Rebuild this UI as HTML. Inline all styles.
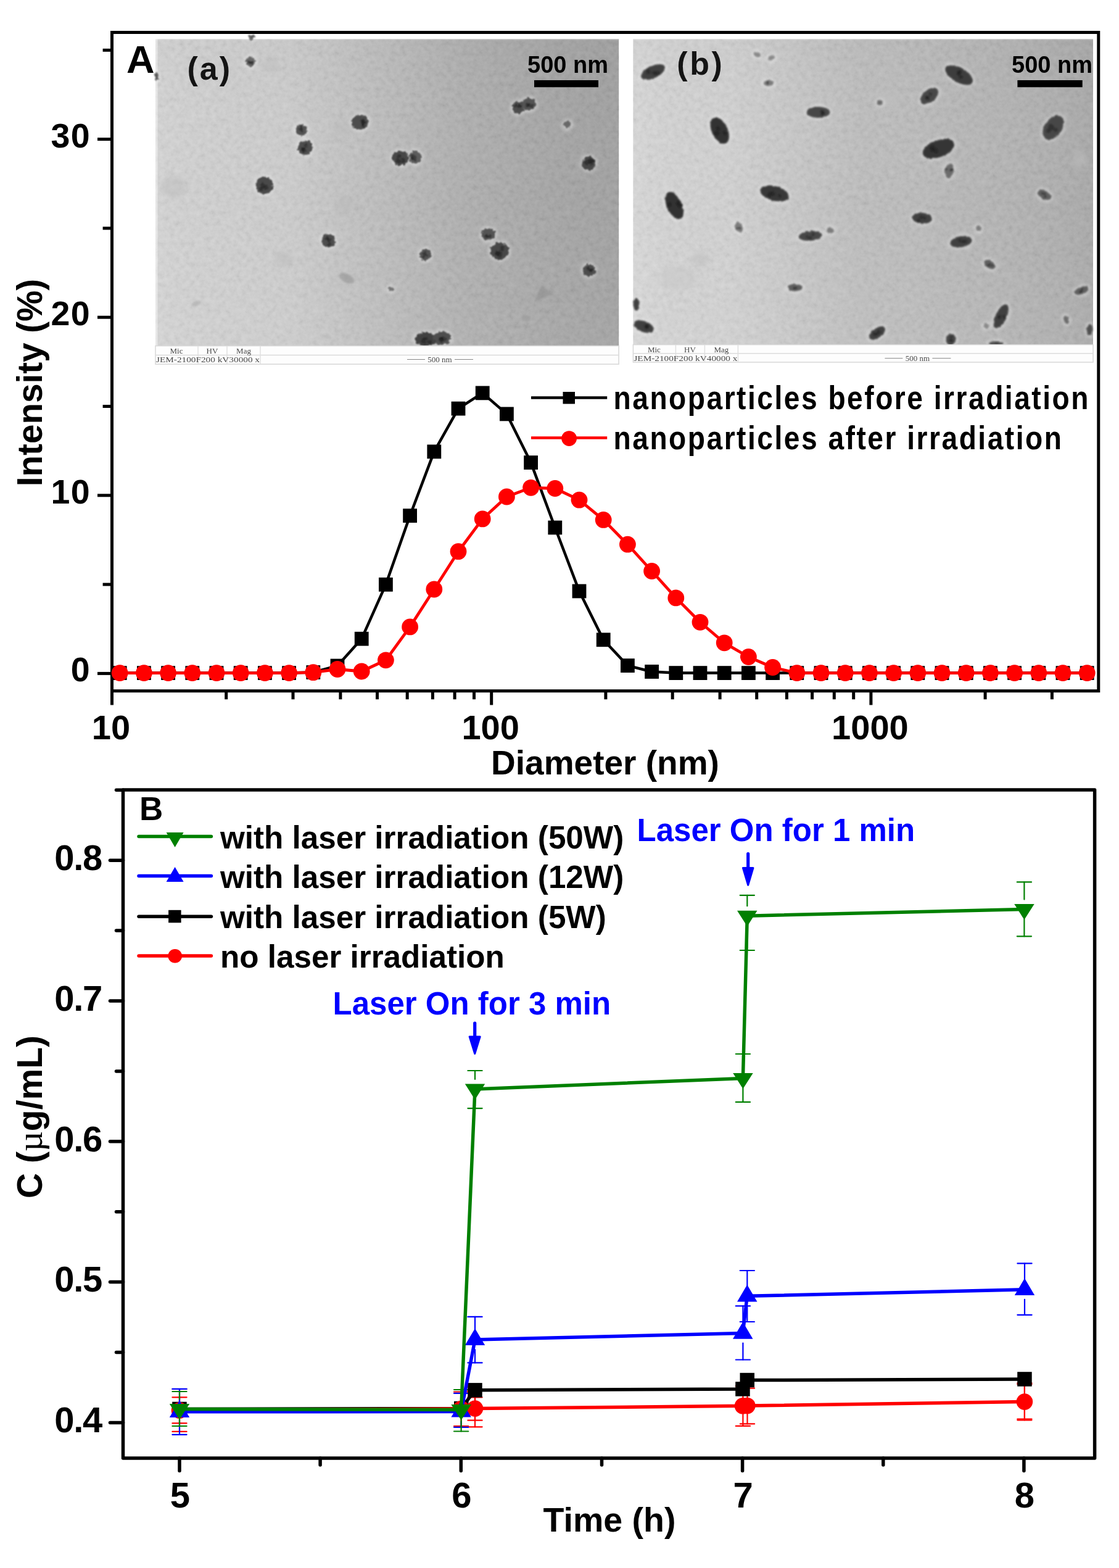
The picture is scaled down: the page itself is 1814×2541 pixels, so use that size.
<!DOCTYPE html><html><head><meta charset="utf-8"><title>Figure</title><style>html,body{margin:0;padding:0;background:#fff;}svg{display:block}</style></head><body>
<svg width="1814" height="2541" viewBox="0 0 1814 2541" font-family="'Liberation Sans', Arial, sans-serif">
<defs><filter id="blur1" x="-50%" y="-50%" width="200%" height="200%"><feGaussianBlur stdDeviation="1.5"/></filter><filter id="blur2" x="-50%" y="-50%" width="200%" height="200%"><feGaussianBlur stdDeviation="4"/></filter><filter id="pblob" x="-20%" y="-20%" width="140%" height="140%"><feTurbulence type="fractalNoise" baseFrequency="0.22" numOctaves="2" seed="11" result="t"/><feDisplacementMap in="SourceGraphic" in2="t" scale="7" xChannelSelector="R" yChannelSelector="G" result="d"/><feGaussianBlur in="d" stdDeviation="1.3"/></filter><filter id="pblob2" x="-20%" y="-20%" width="140%" height="140%"><feTurbulence type="fractalNoise" baseFrequency="0.2" numOctaves="2" seed="4" result="t"/><feDisplacementMap in="SourceGraphic" in2="t" scale="3.5" xChannelSelector="R" yChannelSelector="G" result="d"/><feGaussianBlur in="d" stdDeviation="1.5"/></filter><filter id="blur3" x="-50%" y="-50%" width="200%" height="200%"><feGaussianBlur stdDeviation="2.5"/></filter><filter id="noise" x="0" y="0" width="100%" height="100%"><feTurbulence type="fractalNoise" baseFrequency="0.12" numOctaves="3" seed="7"/><feColorMatrix type="matrix" values="1 0 0 0 0  1 0 0 0 0  1 0 0 0 0  0 0 0 0 1"/></filter><linearGradient id="ga" x1="0" y1="0" x2="1" y2="0"><stop offset="0" stop-color="rgb(213,213,213)"/><stop offset="0.064" stop-color="rgb(210,210,210)"/><stop offset="0.29" stop-color="rgb(205,205,205)"/><stop offset="0.37" stop-color="rgb(198,198,198)"/><stop offset="0.49" stop-color="rgb(188,188,188)"/><stop offset="0.66" stop-color="rgb(174,174,174)"/><stop offset="0.87" stop-color="rgb(163,163,163)"/><stop offset="1.0" stop-color="rgb(159,159,159)"/></linearGradient><linearGradient id="gb" x1="0" y1="0" x2="1" y2="0"><stop offset="0" stop-color="rgb(217,217,217)"/><stop offset="0.07" stop-color="rgb(212,212,212)"/><stop offset="0.21" stop-color="rgb(210,210,210)"/><stop offset="0.5" stop-color="rgb(189,189,189)"/><stop offset="0.6" stop-color="rgb(187,187,187)"/><stop offset="0.84" stop-color="rgb(177,177,177)"/><stop offset="0.94" stop-color="rgb(172,172,172)"/><stop offset="1.0" stop-color="rgb(167,167,167)"/></linearGradient><linearGradient id="gv" x1="0" y1="0" x2="0" y2="1"><stop offset="0" stop-color="#000" stop-opacity="0.015"/><stop offset="0.5" stop-color="#fff" stop-opacity="0"/><stop offset="1" stop-color="#fff" stop-opacity="0.04"/></linearGradient><radialGradient id="pg" cx="0.45" cy="0.45" r="0.6"><stop offset="0" stop-color="#1e1e1e"/><stop offset="0.6" stop-color="#303030"/><stop offset="1" stop-color="#555"/></radialGradient></defs>
<rect width="1814" height="2541" fill="#fff"/>
<rect x="252" y="63" width="751.1" height="497.5" fill="url(#ga)"/>
<rect x="252" y="63" width="751.1" height="497.5" fill="#000" filter="url(#noise)" opacity="0.12"/>
<rect x="252" y="63" width="751.1" height="497.5" fill="url(#gv)"/>
<rect x="252" y="63" width="3.5" height="497.5" fill="#fff" opacity="0.45"/>
<rect x="252" y="63" width="751.1" height="1.5" fill="#fff" opacity="0.35"/>
<g filter="url(#blur1)" opacity="0.55"><polygon points="866,489 878,462 896,477 884,481" fill="#8c8c8c"/><ellipse cx="562" cy="451" rx="13" ry="7" transform="rotate(25 562 451)" fill="#8e8e8e"/><ellipse cx="853" cy="516" rx="7" ry="5" fill="#9a9a9a"/><ellipse cx="318" cy="492" rx="8" ry="4" transform="rotate(-20 318 492)" fill="#a8a8a8"/></g>
<g filter="url(#blur2)">
<ellipse cx="282" cy="303" rx="20" ry="18" transform="rotate(0 282 303)" fill="#bdbdbd" opacity="0.5"/>
<ellipse cx="556" cy="208" rx="16" ry="12" transform="rotate(0 556 208)" fill="#bbbbbb" opacity="0.5"/>
<ellipse cx="560" cy="332" rx="14" ry="12" transform="rotate(0 560 332)" fill="#b8b8b8" opacity="0.5"/>
<ellipse cx="439" cy="106" rx="14" ry="10" transform="rotate(0 439 106)" fill="#bdbdbd" opacity="0.5"/>
<ellipse cx="460" cy="420" rx="14" ry="12" transform="rotate(0 460 420)" fill="#bcbcbc" opacity="0.5"/>
</g>
<g filter="url(#blur3)" fill="#fff" opacity="0.35">
<ellipse cx="406" cy="100" rx="11.5" ry="11.5" transform="rotate(0 406 100)"/>
<ellipse cx="408" cy="60" rx="9.5" ry="7.5" transform="rotate(0 408 60)"/>
<ellipse cx="488" cy="210.5" rx="13.5" ry="12.5" transform="rotate(0 488 210.5)"/>
<ellipse cx="494.6" cy="239" rx="15.5" ry="15.5" transform="rotate(0 494.6 239)"/>
<ellipse cx="583.8" cy="198" rx="17.5" ry="15.5" transform="rotate(-10 583.8 198)"/>
<ellipse cx="648.7" cy="256.5" rx="16.5" ry="15.5" transform="rotate(0 648.7 256.5)"/>
<ellipse cx="673" cy="255" rx="13.5" ry="14.5" transform="rotate(0 673 255)"/>
<ellipse cx="428.7" cy="300.6" rx="17.5" ry="17.5" transform="rotate(0 428.7 300.6)"/>
<ellipse cx="840" cy="174.5" rx="13.5" ry="13.5" transform="rotate(0 840 174.5)"/>
<ellipse cx="857.4" cy="168.8" rx="14.5" ry="13.5" transform="rotate(0 857.4 168.8)"/>
<ellipse cx="919.5" cy="202" rx="9.5" ry="9.5" transform="rotate(0 919.5 202)"/>
<ellipse cx="954.6" cy="264.6" rx="14.5" ry="14.5" transform="rotate(0 954.6 264.6)"/>
<ellipse cx="532.6" cy="390" rx="14.5" ry="14.5" transform="rotate(0 532.6 390)"/>
<ellipse cx="689.5" cy="413" rx="12.5" ry="13.5" transform="rotate(0 689.5 413)"/>
<ellipse cx="791.4" cy="379.8" rx="14.5" ry="13.5" transform="rotate(0 791.4 379.8)"/>
<ellipse cx="810" cy="406.8" rx="18.5" ry="17.5" transform="rotate(0 810 406.8)"/>
<ellipse cx="955" cy="438" rx="13.5" ry="13.5" transform="rotate(0 955 438)"/>
<ellipse cx="633.5" cy="468.5" rx="7.5" ry="7.5" transform="rotate(0 633.5 468.5)"/>
<ellipse cx="254" cy="124" rx="6.0" ry="10.5" transform="rotate(0 254 124)"/>
<ellipse cx="690" cy="550" rx="21.5" ry="14.5" transform="rotate(0 690 550)"/>
<ellipse cx="717" cy="548" rx="17.5" ry="14.5" transform="rotate(0 717 548)"/>
</g>
<g filter="url(#pblob)">
<ellipse cx="406" cy="100" rx="8" ry="8" transform="rotate(0 406 100)" fill="#676767"/>
<ellipse cx="408" cy="60" rx="6" ry="4" transform="rotate(0 408 60)" fill="#5b5b5b"/>
<ellipse cx="488" cy="210.5" rx="10" ry="9" transform="rotate(0 488 210.5)" fill="#535353"/>
<ellipse cx="494.6" cy="239" rx="12" ry="12" transform="rotate(0 494.6 239)" fill="#4e4e4e"/>
<ellipse cx="583.8" cy="198" rx="14" ry="12" transform="rotate(-10 583.8 198)" fill="#4e4e4e"/>
<ellipse cx="648.7" cy="256.5" rx="13" ry="12" transform="rotate(0 648.7 256.5)" fill="#474747"/>
<ellipse cx="673" cy="255" rx="10" ry="11" transform="rotate(0 673 255)" fill="#5b5b5b"/>
<ellipse cx="428.7" cy="300.6" rx="14" ry="14" transform="rotate(0 428.7 300.6)" fill="#4a4a4a"/>
<ellipse cx="840" cy="174.5" rx="10" ry="10" transform="rotate(0 840 174.5)" fill="#4e4e4e"/>
<ellipse cx="857.4" cy="168.8" rx="11" ry="10" transform="rotate(0 857.4 168.8)" fill="#535353"/>
<ellipse cx="919.5" cy="202" rx="6" ry="6" transform="rotate(0 919.5 202)" fill="#676767"/>
<ellipse cx="954.6" cy="264.6" rx="11" ry="11" transform="rotate(0 954.6 264.6)" fill="#474747"/>
<ellipse cx="532.6" cy="390" rx="11" ry="11" transform="rotate(0 532.6 390)" fill="#4e4e4e"/>
<ellipse cx="689.5" cy="413" rx="9" ry="10" transform="rotate(0 689.5 413)" fill="#535353"/>
<ellipse cx="791.4" cy="379.8" rx="11" ry="10" transform="rotate(0 791.4 379.8)" fill="#535353"/>
<ellipse cx="810" cy="406.8" rx="15" ry="14" transform="rotate(0 810 406.8)" fill="#474747"/>
<ellipse cx="955" cy="438" rx="10" ry="10" transform="rotate(0 955 438)" fill="#4e4e4e"/>
<ellipse cx="633.5" cy="468.5" rx="4" ry="4" transform="rotate(0 633.5 468.5)" fill="#747474"/>
<ellipse cx="254" cy="124" rx="2.5" ry="7" transform="rotate(0 254 124)" fill="#5b5b5b"/>
<ellipse cx="690" cy="550" rx="18" ry="11" transform="rotate(0 690 550)" fill="#414141"/>
<ellipse cx="717" cy="548" rx="14" ry="11" transform="rotate(0 717 548)" fill="#4e4e4e"/>
<circle cx="406.8" cy="101.5" r="3.0" fill="#1c1c1c" opacity="0.5"/>
<circle cx="408.8" cy="101.5" r="3.1" fill="#1c1c1c" opacity="0.5"/>
<circle cx="403.0" cy="99.8" r="3.1" fill="#1c1c1c" opacity="0.5"/>
<circle cx="489.2" cy="213.4" r="2.4" fill="#1c1c1c" opacity="0.5"/>
<circle cx="487.8" cy="208.7" r="3.0" fill="#1c1c1c" opacity="0.5"/>
<circle cx="488.6" cy="207.0" r="2.5" fill="#1c1c1c" opacity="0.5"/>
<circle cx="492.5" cy="243.0" r="4.4" fill="#1c1c1c" opacity="0.5"/>
<circle cx="491.3" cy="241.9" r="3.2" fill="#1c1c1c" opacity="0.5"/>
<circle cx="495.7" cy="235.4" r="3.0" fill="#1c1c1c" opacity="0.5"/>
<circle cx="588.0" cy="195.2" r="3.4" fill="#1c1c1c" opacity="0.5"/>
<circle cx="589.2" cy="201.6" r="3.5" fill="#1c1c1c" opacity="0.5"/>
<circle cx="589.0" cy="198.4" r="4.2" fill="#1c1c1c" opacity="0.5"/>
<circle cx="645.6" cy="260.7" r="4.2" fill="#1c1c1c" opacity="0.5"/>
<circle cx="653.6" cy="260.3" r="3.5" fill="#1c1c1c" opacity="0.5"/>
<circle cx="647.3" cy="253.3" r="3.3" fill="#1c1c1c" opacity="0.5"/>
<circle cx="669.5" cy="253.3" r="3.4" fill="#1c1c1c" opacity="0.5"/>
<circle cx="669.0" cy="256.6" r="3.0" fill="#1c1c1c" opacity="0.5"/>
<circle cx="671.5" cy="257.8" r="3.2" fill="#1c1c1c" opacity="0.5"/>
<circle cx="426.6" cy="300.4" r="5.0" fill="#1c1c1c" opacity="0.5"/>
<circle cx="423.7" cy="305.9" r="3.5" fill="#1c1c1c" opacity="0.5"/>
<circle cx="431.5" cy="304.5" r="3.5" fill="#1c1c1c" opacity="0.5"/>
<circle cx="842.3" cy="173.4" r="3.4" fill="#1c1c1c" opacity="0.5"/>
<circle cx="836.1" cy="170.9" r="2.8" fill="#1c1c1c" opacity="0.5"/>
<circle cx="843.6" cy="172.1" r="3.6" fill="#1c1c1c" opacity="0.5"/>
<circle cx="861.2" cy="172.3" r="3.0" fill="#1c1c1c" opacity="0.5"/>
<circle cx="856.1" cy="169.0" r="3.7" fill="#1c1c1c" opacity="0.5"/>
<circle cx="854.0" cy="170.8" r="3.7" fill="#1c1c1c" opacity="0.5"/>
<circle cx="957.8" cy="260.5" r="4.3" fill="#1c1c1c" opacity="0.5"/>
<circle cx="951.0" cy="263.2" r="3.8" fill="#1c1c1c" opacity="0.5"/>
<circle cx="958.3" cy="263.2" r="4.3" fill="#1c1c1c" opacity="0.5"/>
<circle cx="533.0" cy="388.3" r="3.3" fill="#1c1c1c" opacity="0.5"/>
<circle cx="529.8" cy="386.3" r="3.0" fill="#1c1c1c" opacity="0.5"/>
<circle cx="534.3" cy="394.4" r="3.0" fill="#1c1c1c" opacity="0.5"/>
<circle cx="686.2" cy="416.9" r="3.0" fill="#1c1c1c" opacity="0.5"/>
<circle cx="688.8" cy="410.9" r="3.1" fill="#1c1c1c" opacity="0.5"/>
<circle cx="691.8" cy="412.6" r="2.8" fill="#1c1c1c" opacity="0.5"/>
<circle cx="787.5" cy="383.1" r="2.5" fill="#1c1c1c" opacity="0.5"/>
<circle cx="791.3" cy="382.5" r="2.7" fill="#1c1c1c" opacity="0.5"/>
<circle cx="793.4" cy="383.4" r="3.4" fill="#1c1c1c" opacity="0.5"/>
<circle cx="813.5" cy="402.4" r="4.4" fill="#1c1c1c" opacity="0.5"/>
<circle cx="805.8" cy="410.7" r="4.1" fill="#1c1c1c" opacity="0.5"/>
<circle cx="809.4" cy="412.4" r="5.3" fill="#1c1c1c" opacity="0.5"/>
<circle cx="958.8" cy="437.6" r="3.2" fill="#1c1c1c" opacity="0.5"/>
<circle cx="956.8" cy="437.8" r="2.9" fill="#1c1c1c" opacity="0.5"/>
<circle cx="954.2" cy="435.2" r="3.1" fill="#1c1c1c" opacity="0.5"/>
<circle cx="697.0" cy="554.0" r="3.8" fill="#1c1c1c" opacity="0.5"/>
<circle cx="690.0" cy="548.6" r="2.9" fill="#1c1c1c" opacity="0.5"/>
<circle cx="686.7" cy="552.5" r="4.2" fill="#1c1c1c" opacity="0.5"/>
<circle cx="715.4" cy="550.5" r="4.0" fill="#1c1c1c" opacity="0.5"/>
<circle cx="719.2" cy="549.4" r="4.0" fill="#1c1c1c" opacity="0.5"/>
<circle cx="715.5" cy="549.8" r="3.2" fill="#1c1c1c" opacity="0.5"/>
</g>
<text x="303.4" y="129.4" font-size="52" letter-spacing="3" font-weight="bold" fill="#141414">(a)</text>
<text x="855" y="118" font-size="38" font-weight="bold" fill="#000">500 nm</text>
<rect x="866" y="130" width="104" height="11.3" fill="#000"/>
<rect x="252" y="560.5" width="751.1" height="29.7" fill="#fdfdfd" stroke="#d8d8d8" stroke-width="1.5"/>
<line x1="252" y1="575.4" x2="1003.1" y2="575.4" stroke="#dcdcdc" stroke-width="1.5"/>
<line x1="321" y1="560.5" x2="321" y2="590.2" stroke="#e0e0e0" stroke-width="1.5"/>
<line x1="368" y1="560.5" x2="368" y2="590.2" stroke="#e0e0e0" stroke-width="1.5"/>
<line x1="422" y1="560.5" x2="422" y2="590.2" stroke="#e0e0e0" stroke-width="1.5"/>
<g font-family="'Liberation Serif', serif" font-size="13" fill="#4a4a4a">
<text x="286" y="572.5" text-anchor="middle">Mic</text>
<text x="344" y="572.5" text-anchor="middle">HV</text>
<text x="395" y="572.5" text-anchor="middle">Mag</text>
<text x="253" y="586.5" textLength="168" lengthAdjust="spacingAndGlyphs">JEM-2100F200 kV30000 x</text>
<text x="713" y="586.5" text-anchor="middle">500 nm</text>
</g>
<line x1="660" y1="582.5" x2="689" y2="582.5" stroke="#888" stroke-width="1"/>
<line x1="737" y1="582.5" x2="767" y2="582.5" stroke="#888" stroke-width="1"/>
<rect x="1026.4" y="63" width="745.6" height="495.6" fill="url(#gb)"/>
<rect x="1026.4" y="63" width="745.6" height="495.6" fill="#000" filter="url(#noise)" opacity="0.12"/>
<rect x="1026.4" y="63" width="745.6" height="495.6" fill="url(#gv)"/>
<rect x="1026.4" y="63" width="745.6" height="1.5" fill="#fff" opacity="0.35"/>
<g filter="url(#blur2)">
<ellipse cx="1135" cy="420" rx="14" ry="10" transform="rotate(0 1135 420)" fill="#bcbcbc" opacity="0.5"/>
<ellipse cx="1440" cy="160" rx="18" ry="14" transform="rotate(0 1440 160)" fill="#c0c0c0" opacity="0.5"/>
<ellipse cx="1100" cy="450" rx="30" ry="20" transform="rotate(0 1100 450)" fill="#c8c8c8" opacity="0.5"/>
<ellipse cx="1555" cy="425" rx="10" ry="12" transform="rotate(0 1555 425)" fill="#bbbbbb" opacity="0.5"/>
<ellipse cx="1750" cy="260" rx="12" ry="14" transform="rotate(0 1750 260)" fill="#bdbdbd" opacity="0.5"/>
<ellipse cx="1400" cy="480" rx="10" ry="10" transform="rotate(0 1400 480)" fill="#c2c2c2" opacity="0.5"/>
</g>
<g filter="url(#blur3)" fill="#fff" opacity="0.35">
<ellipse cx="1058.6" cy="116.6" rx="24.5" ry="13.5" transform="rotate(-25 1058.6 116.6)"/>
<ellipse cx="1554.6" cy="121.4" rx="28.5" ry="15.5" transform="rotate(30 1554.6 121.4)"/>
<ellipse cx="1506.7" cy="155.5" rx="20.5" ry="13.5" transform="rotate(-40 1506.7 155.5)"/>
<ellipse cx="1326.5" cy="182" rx="22.5" ry="12.5" transform="rotate(0 1326.5 182)"/>
<ellipse cx="1426.6" cy="166.4" rx="8.5" ry="7.5" transform="rotate(0 1426.6 166.4)"/>
<ellipse cx="1166.7" cy="211.5" rx="26.5" ry="16.5" transform="rotate(65 1166.7 211.5)"/>
<ellipse cx="1521.4" cy="240.9" rx="30.5" ry="17.5" transform="rotate(-20 1521.4 240.9)"/>
<ellipse cx="1707.3" cy="206.7" rx="25.5" ry="17.5" transform="rotate(-55 1707.3 206.7)"/>
<ellipse cx="1539" cy="276.4" rx="15.5" ry="10.5" transform="rotate(-80 1539 276.4)"/>
<ellipse cx="1255.4" cy="313.4" rx="27.5" ry="15.5" transform="rotate(15 1255.4 313.4)"/>
<ellipse cx="1093.2" cy="333.3" rx="27.5" ry="15.5" transform="rotate(65 1093.2 333.3)"/>
<ellipse cx="1693" cy="315.8" rx="15.5" ry="10.5" transform="rotate(30 1693 315.8)"/>
<ellipse cx="1494.8" cy="353.7" rx="19.5" ry="12.5" transform="rotate(5 1494.8 353.7)"/>
<ellipse cx="1197.5" cy="368" rx="12.5" ry="9.5" transform="rotate(60 1197.5 368)"/>
<ellipse cx="1313.7" cy="382.2" rx="22.5" ry="11.5" transform="rotate(-5 1313.7 382.2)"/>
<ellipse cx="1345.5" cy="373.6" rx="9.5" ry="8.5" transform="rotate(0 1345.5 373.6)"/>
<ellipse cx="1557.9" cy="391.7" rx="21.5" ry="12.5" transform="rotate(-10 1557.9 391.7)"/>
<ellipse cx="1586.4" cy="370.3" rx="8.5" ry="7.5" transform="rotate(60 1586.4 370.3)"/>
<ellipse cx="1604.4" cy="428.6" rx="13.5" ry="9.5" transform="rotate(35 1604.4 428.6)"/>
<ellipse cx="1288.6" cy="466" rx="15.5" ry="9.5" transform="rotate(0 1288.6 466)"/>
<ellipse cx="1753.3" cy="470.8" rx="15.5" ry="9.5" transform="rotate(-20 1753.3 470.8)"/>
<ellipse cx="1622.9" cy="512.6" rx="24.5" ry="12.5" transform="rotate(-65 1622.9 512.6)"/>
<ellipse cx="1728.6" cy="518.3" rx="10.5" ry="7.5" transform="rotate(70 1728.6 518.3)"/>
<ellipse cx="1031.6" cy="493.6" rx="8.5" ry="13.5" transform="rotate(0 1031.6 493.6)"/>
<ellipse cx="1043.4" cy="529.2" rx="20.5" ry="12.5" transform="rotate(20 1043.4 529.2)"/>
<ellipse cx="1421.8" cy="539.6" rx="18.5" ry="11.5" transform="rotate(-35 1421.8 539.6)"/>
<ellipse cx="1541.3" cy="550" rx="11.5" ry="13.5" transform="rotate(0 1541.3 550)"/>
<ellipse cx="1614.8" cy="557" rx="15.5" ry="7.5" transform="rotate(0 1614.8 557)"/>
<ellipse cx="1766.5" cy="534" rx="8.5" ry="12.5" transform="rotate(0 1766.5 534)"/>
<ellipse cx="1227.4" cy="88.2" rx="9.5" ry="7.5" transform="rotate(20 1227.4 88.2)"/>
<ellipse cx="1250.7" cy="93.9" rx="9.5" ry="7.5" transform="rotate(-30 1250.7 93.9)"/>
<ellipse cx="1245.9" cy="134.7" rx="11.5" ry="8.5" transform="rotate(0 1245.9 134.7)"/>
<ellipse cx="1599" cy="528" rx="8.5" ry="7.5" transform="rotate(0 1599 528)"/>
</g>
<g filter="url(#pblob2)">
<ellipse cx="1058.6" cy="116.6" rx="21" ry="10" transform="rotate(-25 1058.6 116.6)" fill="#414141"/>
<ellipse cx="1554.6" cy="121.4" rx="25" ry="12" transform="rotate(30 1554.6 121.4)" fill="#3d3d3d"/>
<ellipse cx="1506.7" cy="155.5" rx="17" ry="10" transform="rotate(-40 1506.7 155.5)" fill="#474747"/>
<ellipse cx="1326.5" cy="182" rx="19" ry="9" transform="rotate(0 1326.5 182)" fill="#474747"/>
<ellipse cx="1426.6" cy="166.4" rx="5" ry="4" transform="rotate(0 1426.6 166.4)" fill="#6c6c6c"/>
<ellipse cx="1166.7" cy="211.5" rx="23" ry="13" transform="rotate(65 1166.7 211.5)" fill="#323232"/>
<ellipse cx="1521.4" cy="240.9" rx="27" ry="14" transform="rotate(-20 1521.4 240.9)" fill="#363636"/>
<ellipse cx="1707.3" cy="206.7" rx="22" ry="14" transform="rotate(-55 1707.3 206.7)" fill="#474747"/>
<ellipse cx="1539" cy="276.4" rx="12" ry="7" transform="rotate(-80 1539 276.4)" fill="#6c6c6c"/>
<ellipse cx="1255.4" cy="313.4" rx="24" ry="12" transform="rotate(15 1255.4 313.4)" fill="#393939"/>
<ellipse cx="1093.2" cy="333.3" rx="24" ry="12" transform="rotate(65 1093.2 333.3)" fill="#323232"/>
<ellipse cx="1693" cy="315.8" rx="12" ry="7" transform="rotate(30 1693 315.8)" fill="#5e5e5e"/>
<ellipse cx="1494.8" cy="353.7" rx="16" ry="9" transform="rotate(5 1494.8 353.7)" fill="#414141"/>
<ellipse cx="1197.5" cy="368" rx="9" ry="6" transform="rotate(60 1197.5 368)" fill="#7b7b7b"/>
<ellipse cx="1313.7" cy="382.2" rx="19" ry="8" transform="rotate(-5 1313.7 382.2)" fill="#474747"/>
<ellipse cx="1345.5" cy="373.6" rx="6" ry="5" transform="rotate(0 1345.5 373.6)" fill="#7b7b7b"/>
<ellipse cx="1557.9" cy="391.7" rx="18" ry="9" transform="rotate(-10 1557.9 391.7)" fill="#414141"/>
<ellipse cx="1586.4" cy="370.3" rx="5" ry="4" transform="rotate(60 1586.4 370.3)" fill="#7b7b7b"/>
<ellipse cx="1604.4" cy="428.6" rx="10" ry="6" transform="rotate(35 1604.4 428.6)" fill="#5e5e5e"/>
<ellipse cx="1288.6" cy="466" rx="12" ry="6" transform="rotate(0 1288.6 466)" fill="#5e5e5e"/>
<ellipse cx="1753.3" cy="470.8" rx="12" ry="6" transform="rotate(-20 1753.3 470.8)" fill="#5e5e5e"/>
<ellipse cx="1622.9" cy="512.6" rx="21" ry="9" transform="rotate(-65 1622.9 512.6)" fill="#414141"/>
<ellipse cx="1728.6" cy="518.3" rx="7" ry="4" transform="rotate(70 1728.6 518.3)" fill="#6c6c6c"/>
<ellipse cx="1031.6" cy="493.6" rx="5" ry="10" transform="rotate(0 1031.6 493.6)" fill="#414141"/>
<ellipse cx="1043.4" cy="529.2" rx="17" ry="9" transform="rotate(20 1043.4 529.2)" fill="#414141"/>
<ellipse cx="1421.8" cy="539.6" rx="15" ry="8" transform="rotate(-35 1421.8 539.6)" fill="#414141"/>
<ellipse cx="1541.3" cy="550" rx="8" ry="10" transform="rotate(0 1541.3 550)" fill="#474747"/>
<ellipse cx="1614.8" cy="557" rx="12" ry="4" transform="rotate(0 1614.8 557)" fill="#4f4f4f"/>
<ellipse cx="1766.5" cy="534" rx="5" ry="9" transform="rotate(0 1766.5 534)" fill="#4f4f4f"/>
<ellipse cx="1227.4" cy="88.2" rx="6" ry="4" transform="rotate(20 1227.4 88.2)" fill="#898989"/>
<ellipse cx="1250.7" cy="93.9" rx="6" ry="4" transform="rotate(-30 1250.7 93.9)" fill="#898989"/>
<ellipse cx="1245.9" cy="134.7" rx="8" ry="5" transform="rotate(0 1245.9 134.7)" fill="#7b7b7b"/>
<ellipse cx="1599" cy="528" rx="5" ry="4" transform="rotate(0 1599 528)" fill="#898989"/>
<circle cx="1060.7" cy="118.5" r="3.7" fill="#1c1c1c" opacity="0.5"/>
<circle cx="1066.0" cy="118.5" r="3.9" fill="#1c1c1c" opacity="0.5"/>
<circle cx="1050.7" cy="116.3" r="3.9" fill="#1c1c1c" opacity="0.5"/>
<circle cx="1557.6" cy="125.2" r="3.2" fill="#1c1c1c" opacity="0.5"/>
<circle cx="1554.0" cy="119.0" r="4.0" fill="#1c1c1c" opacity="0.5"/>
<circle cx="1556.1" cy="116.7" r="3.4" fill="#1c1c1c" opacity="0.5"/>
<circle cx="1503.7" cy="158.8" r="3.6" fill="#1c1c1c" opacity="0.5"/>
<circle cx="1502.1" cy="157.9" r="2.7" fill="#1c1c1c" opacity="0.5"/>
<circle cx="1508.3" cy="152.5" r="2.5" fill="#1c1c1c" opacity="0.5"/>
<circle cx="1332.1" cy="179.9" r="2.5" fill="#1c1c1c" opacity="0.5"/>
<circle cx="1333.8" cy="184.7" r="2.6" fill="#1c1c1c" opacity="0.5"/>
<circle cx="1333.5" cy="182.3" r="3.2" fill="#1c1c1c" opacity="0.5"/>
<circle cx="1161.3" cy="216.1" r="4.6" fill="#1c1c1c" opacity="0.5"/>
<circle cx="1175.3" cy="215.6" r="3.8" fill="#1c1c1c" opacity="0.5"/>
<circle cx="1164.1" cy="208.0" r="3.5" fill="#1c1c1c" opacity="0.5"/>
<circle cx="1512.0" cy="238.7" r="4.8" fill="#1c1c1c" opacity="0.5"/>
<circle cx="1510.7" cy="242.9" r="4.2" fill="#1c1c1c" opacity="0.5"/>
<circle cx="1517.3" cy="244.5" r="4.5" fill="#1c1c1c" opacity="0.5"/>
<circle cx="1704.1" cy="206.5" r="5.0" fill="#1c1c1c" opacity="0.5"/>
<circle cx="1699.5" cy="212.0" r="3.5" fill="#1c1c1c" opacity="0.5"/>
<circle cx="1711.7" cy="210.6" r="3.5" fill="#1c1c1c" opacity="0.5"/>
<circle cx="1541.8" cy="275.7" r="2.4" fill="#1c1c1c" opacity="0.5"/>
<circle cx="1534.3" cy="273.9" r="1.9" fill="#1c1c1c" opacity="0.5"/>
<circle cx="1543.4" cy="274.7" r="2.5" fill="#1c1c1c" opacity="0.5"/>
<circle cx="1263.6" cy="317.6" r="3.6" fill="#1c1c1c" opacity="0.5"/>
<circle cx="1252.6" cy="313.6" r="4.4" fill="#1c1c1c" opacity="0.5"/>
<circle cx="1247.9" cy="315.8" r="4.4" fill="#1c1c1c" opacity="0.5"/>
<circle cx="1100.1" cy="328.9" r="4.7" fill="#1c1c1c" opacity="0.5"/>
<circle cx="1085.4" cy="331.8" r="4.1" fill="#1c1c1c" opacity="0.5"/>
<circle cx="1101.2" cy="331.8" r="4.7" fill="#1c1c1c" opacity="0.5"/>
<circle cx="1693.4" cy="314.7" r="2.1" fill="#1c1c1c" opacity="0.5"/>
<circle cx="1689.9" cy="313.4" r="1.9" fill="#1c1c1c" opacity="0.5"/>
<circle cx="1694.8" cy="318.6" r="1.9" fill="#1c1c1c" opacity="0.5"/>
<circle cx="1489.0" cy="357.2" r="3.0" fill="#1c1c1c" opacity="0.5"/>
<circle cx="1493.6" cy="351.8" r="3.1" fill="#1c1c1c" opacity="0.5"/>
<circle cx="1499.0" cy="353.4" r="2.8" fill="#1c1c1c" opacity="0.5"/>
<circle cx="1194.3" cy="370.0" r="1.5" fill="#1c1c1c" opacity="0.5"/>
<circle cx="1197.5" cy="369.6" r="1.6" fill="#1c1c1c" opacity="0.5"/>
<circle cx="1199.2" cy="370.2" r="2.1" fill="#1c1c1c" opacity="0.5"/>
<circle cx="1318.1" cy="379.7" r="2.5" fill="#1c1c1c" opacity="0.5"/>
<circle cx="1308.4" cy="384.4" r="2.4" fill="#1c1c1c" opacity="0.5"/>
<circle cx="1313.0" cy="385.4" r="3.0" fill="#1c1c1c" opacity="0.5"/>
<circle cx="1564.8" cy="391.4" r="2.9" fill="#1c1c1c" opacity="0.5"/>
<circle cx="1561.2" cy="391.5" r="2.6" fill="#1c1c1c" opacity="0.5"/>
<circle cx="1556.5" cy="389.2" r="2.8" fill="#1c1c1c" opacity="0.5"/>
<circle cx="1608.3" cy="430.8" r="2.1" fill="#1c1c1c" opacity="0.5"/>
<circle cx="1604.4" cy="427.8" r="1.6" fill="#1c1c1c" opacity="0.5"/>
<circle cx="1602.6" cy="430.0" r="2.3" fill="#1c1c1c" opacity="0.5"/>
<circle cx="1287.3" cy="467.4" r="2.2" fill="#1c1c1c" opacity="0.5"/>
<circle cx="1290.5" cy="466.8" r="2.2" fill="#1c1c1c" opacity="0.5"/>
<circle cx="1287.3" cy="467.0" r="1.8" fill="#1c1c1c" opacity="0.5"/>
<circle cx="1753.2" cy="472.1" r="2.1" fill="#1c1c1c" opacity="0.5"/>
<circle cx="1751.3" cy="472.9" r="2.1" fill="#1c1c1c" opacity="0.5"/>
<circle cx="1754.1" cy="468.5" r="2.0" fill="#1c1c1c" opacity="0.5"/>
<circle cx="1618.7" cy="513.8" r="2.9" fill="#1c1c1c" opacity="0.5"/>
<circle cx="1628.2" cy="513.7" r="3.3" fill="#1c1c1c" opacity="0.5"/>
<circle cx="1620.3" cy="513.6" r="3.2" fill="#1c1c1c" opacity="0.5"/>
<circle cx="1047.9" cy="528.1" r="3.4" fill="#1c1c1c" opacity="0.5"/>
<circle cx="1048.4" cy="530.6" r="3.6" fill="#1c1c1c" opacity="0.5"/>
<circle cx="1049.6" cy="529.3" r="3.0" fill="#1c1c1c" opacity="0.5"/>
<circle cx="1417.8" cy="541.8" r="3.1" fill="#1c1c1c" opacity="0.5"/>
<circle cx="1421.5" cy="540.8" r="2.9" fill="#1c1c1c" opacity="0.5"/>
<circle cx="1424.6" cy="537.5" r="2.9" fill="#1c1c1c" opacity="0.5"/>
<circle cx="1541.8" cy="551.3" r="2.5" fill="#1c1c1c" opacity="0.5"/>
<circle cx="1542.1" cy="552.2" r="2.8" fill="#1c1c1c" opacity="0.5"/>
<circle cx="1542.7" cy="546.2" r="2.2" fill="#1c1c1c" opacity="0.5"/>
<circle cx="1614.2" cy="557.5" r="1.1" fill="#1c1c1c" opacity="0.5"/>
<circle cx="1616.6" cy="557.4" r="1.0" fill="#1c1c1c" opacity="0.5"/>
<circle cx="1614.5" cy="556.1" r="1.0" fill="#1c1c1c" opacity="0.5"/>
<circle cx="1243.6" cy="134.0" r="1.4" fill="#1c1c1c" opacity="0.5"/>
<circle cx="1243.9" cy="132.8" r="1.6" fill="#1c1c1c" opacity="0.5"/>
<circle cx="1245.1" cy="135.1" r="1.7" fill="#1c1c1c" opacity="0.5"/>
</g>
<text x="1097.3" y="120.8" font-size="52" letter-spacing="3.6" font-weight="bold" fill="#141414">(b)</text>
<text x="1640" y="118" font-size="38" font-weight="bold" fill="#000">500 nm</text>
<rect x="1649.4" y="130" width="105.3" height="11.3" fill="#000"/>
<rect x="1026.4" y="558.6" width="745.6" height="28.4" fill="#fdfdfd" stroke="#d8d8d8" stroke-width="1.5"/>
<line x1="1026.4" y1="572.8" x2="1772" y2="572.8" stroke="#dcdcdc" stroke-width="1.5"/>
<line x1="1095.4" y1="558.6" x2="1095.4" y2="587" stroke="#e0e0e0" stroke-width="1.5"/>
<line x1="1142.4" y1="558.6" x2="1142.4" y2="587" stroke="#e0e0e0" stroke-width="1.5"/>
<line x1="1196.4" y1="558.6" x2="1196.4" y2="587" stroke="#e0e0e0" stroke-width="1.5"/>
<g font-family="'Liberation Serif', serif" font-size="13" fill="#4a4a4a">
<text x="1060.4" y="570.6" text-anchor="middle">Mic</text>
<text x="1118.4" y="570.6" text-anchor="middle">HV</text>
<text x="1169.4" y="570.6" text-anchor="middle">Mag</text>
<text x="1027.4" y="584.6" textLength="168" lengthAdjust="spacingAndGlyphs">JEM-2100F200 kV40000 x</text>
<text x="1487.4" y="584.6" text-anchor="middle">500 nm</text>
</g>
<line x1="1434.4" y1="580.6" x2="1463.4" y2="580.6" stroke="#888" stroke-width="1"/>
<line x1="1511.4" y1="580.6" x2="1541.4" y2="580.6" stroke="#888" stroke-width="1"/>
<g stroke="#000" stroke-width="5" fill="none" stroke-linecap="square">
<rect x="181.5" y="52.5" width="1599.3" height="1067.2"/>
</g>
<g stroke="#000" stroke-width="5" stroke-linecap="butt">
<line x1="158" y1="1091.4" x2="181.5" y2="1091.4"/>
<line x1="158" y1="802.8" x2="181.5" y2="802.8"/>
<line x1="158" y1="514.2" x2="181.5" y2="514.2"/>
<line x1="158" y1="225.6" x2="181.5" y2="225.6"/>
<line x1="166.6" y1="947.1" x2="181.5" y2="947.1"/>
<line x1="166.6" y1="658.5" x2="181.5" y2="658.5"/>
<line x1="166.6" y1="369.9" x2="181.5" y2="369.9"/>
<line x1="166.6" y1="81.3" x2="181.5" y2="81.3"/>
<line x1="181.5" y1="1119.7" x2="181.5" y2="1142.5"/>
<line x1="796.7" y1="1119.7" x2="796.7" y2="1142.5"/>
<line x1="1411.9" y1="1119.7" x2="1411.9" y2="1142.5"/>
<line x1="366.7" y1="1119.7" x2="366.7" y2="1133.3"/>
<line x1="475.0" y1="1119.7" x2="475.0" y2="1133.3"/>
<line x1="551.9" y1="1119.7" x2="551.9" y2="1133.3"/>
<line x1="611.5" y1="1119.7" x2="611.5" y2="1133.3"/>
<line x1="660.2" y1="1119.7" x2="660.2" y2="1133.3"/>
<line x1="701.4" y1="1119.7" x2="701.4" y2="1133.3"/>
<line x1="737.1" y1="1119.7" x2="737.1" y2="1133.3"/>
<line x1="768.5" y1="1119.7" x2="768.5" y2="1133.3"/>
<line x1="981.9" y1="1119.7" x2="981.9" y2="1133.3"/>
<line x1="1090.2" y1="1119.7" x2="1090.2" y2="1133.3"/>
<line x1="1167.1" y1="1119.7" x2="1167.1" y2="1133.3"/>
<line x1="1226.7" y1="1119.7" x2="1226.7" y2="1133.3"/>
<line x1="1275.4" y1="1119.7" x2="1275.4" y2="1133.3"/>
<line x1="1316.6" y1="1119.7" x2="1316.6" y2="1133.3"/>
<line x1="1352.3" y1="1119.7" x2="1352.3" y2="1133.3"/>
<line x1="1383.7" y1="1119.7" x2="1383.7" y2="1133.3"/>
<line x1="1597.1" y1="1119.7" x2="1597.1" y2="1133.3"/>
<line x1="1705.4" y1="1119.7" x2="1705.4" y2="1133.3"/>
</g>
<g font-size="55.5" font-weight="bold" fill="#000" text-anchor="end" letter-spacing="1.4">
<text x="147.1" y="1104.4">0</text>
<text x="147.1" y="815.8">10</text>
<text x="147.1" y="527.2">20</text>
<text x="147.1" y="238.6">30</text>
</g>
<g font-size="56" font-weight="bold" fill="#000" text-anchor="middle">
<text x="180.0" y="1197.5">10</text>
<text x="795.2" y="1197.5">100</text>
<text x="1410.4" y="1197.5">1000</text>
</g>
<text x="981" y="1255.4" font-size="55" font-weight="bold" text-anchor="middle">Diameter (nm)</text>
<text transform="translate(67.7 620) rotate(-90)" font-size="56.6" font-weight="bold" text-anchor="middle">Intensity (%)</text>
<text x="205" y="117.7" font-size="63" font-weight="bold">A</text>
<polyline points="194.2,1090.6 233.4,1090.6 272.6,1090.6 311.8,1090.6 351.0,1090.6 390.2,1090.6 429.4,1090.6 468.6,1090.6 507.8,1089.5 547.0,1079.0 586.2,1035.2 625.4,947.3 664.6,835.7 703.8,731.9 743.0,662.1 782.2,636.9 821.4,670.9 860.6,749.6 899.8,855.0 939.0,958.0 978.2,1036.8 1017.4,1078.6 1056.6,1088.5 1095.8,1090.6 1135.0,1090.6 1174.2,1090.6 1213.4,1090.6 1252.6,1090.6 1291.8,1090.6 1331.0,1090.6 1370.2,1090.6 1409.4,1090.6 1448.6,1090.6 1487.8,1090.6 1527.0,1090.6 1566.2,1090.6 1605.4,1090.6 1644.6,1090.6 1683.8,1090.6 1723.0,1090.6 1762.2,1090.6" fill="none" stroke="#000" stroke-width="4.5" stroke-linejoin="round"/>
<g fill="#000">
<rect x="182.8" y="1079.2" width="22.8" height="22.8"/>
<rect x="222.0" y="1079.2" width="22.8" height="22.8"/>
<rect x="261.2" y="1079.2" width="22.8" height="22.8"/>
<rect x="300.4" y="1079.2" width="22.8" height="22.8"/>
<rect x="339.6" y="1079.2" width="22.8" height="22.8"/>
<rect x="378.8" y="1079.2" width="22.8" height="22.8"/>
<rect x="418.0" y="1079.2" width="22.8" height="22.8"/>
<rect x="457.2" y="1079.2" width="22.8" height="22.8"/>
<rect x="496.4" y="1078.1" width="22.8" height="22.8"/>
<rect x="535.6" y="1067.6" width="22.8" height="22.8"/>
<rect x="574.8" y="1023.8" width="22.8" height="22.8"/>
<rect x="614.0" y="935.9" width="22.8" height="22.8"/>
<rect x="653.2" y="824.3" width="22.8" height="22.8"/>
<rect x="692.4" y="720.5" width="22.8" height="22.8"/>
<rect x="731.6" y="650.7" width="22.8" height="22.8"/>
<rect x="770.8" y="625.5" width="22.8" height="22.8"/>
<rect x="810.0" y="659.5" width="22.8" height="22.8"/>
<rect x="849.2" y="738.2" width="22.8" height="22.8"/>
<rect x="888.4" y="843.6" width="22.8" height="22.8"/>
<rect x="927.6" y="946.6" width="22.8" height="22.8"/>
<rect x="966.8" y="1025.4" width="22.8" height="22.8"/>
<rect x="1006.0" y="1067.2" width="22.8" height="22.8"/>
<rect x="1045.2" y="1077.1" width="22.8" height="22.8"/>
<rect x="1084.4" y="1079.2" width="22.8" height="22.8"/>
<rect x="1123.6" y="1079.2" width="22.8" height="22.8"/>
<rect x="1162.8" y="1079.2" width="22.8" height="22.8"/>
<rect x="1202.0" y="1079.2" width="22.8" height="22.8"/>
<rect x="1241.2" y="1079.2" width="22.8" height="22.8"/>
<rect x="1280.4" y="1079.2" width="22.8" height="22.8"/>
<rect x="1319.6" y="1079.2" width="22.8" height="22.8"/>
<rect x="1358.8" y="1079.2" width="22.8" height="22.8"/>
<rect x="1398.0" y="1079.2" width="22.8" height="22.8"/>
<rect x="1437.2" y="1079.2" width="22.8" height="22.8"/>
<rect x="1476.4" y="1079.2" width="22.8" height="22.8"/>
<rect x="1515.6" y="1079.2" width="22.8" height="22.8"/>
<rect x="1554.8" y="1079.2" width="22.8" height="22.8"/>
<rect x="1594.0" y="1079.2" width="22.8" height="22.8"/>
<rect x="1633.2" y="1079.2" width="22.8" height="22.8"/>
<rect x="1672.4" y="1079.2" width="22.8" height="22.8"/>
<rect x="1711.6" y="1079.2" width="22.8" height="22.8"/>
<rect x="1750.8" y="1079.2" width="22.8" height="22.8"/>
</g>
<polyline points="194.2,1090.6 233.4,1090.6 272.6,1090.6 311.8,1090.6 351.0,1090.6 390.2,1090.6 429.4,1090.6 468.6,1090.6 507.8,1089.7 547.0,1084.5 586.2,1088.0 625.4,1069.8 664.6,1015.9 703.8,955.0 743.0,893.7 782.2,840.9 821.4,805.0 860.6,790.3 899.8,791.5 939.0,810.2 978.2,842.4 1017.4,882.2 1056.6,925.5 1095.8,968.9 1135.0,1008.3 1174.2,1041.8 1213.4,1064.5 1252.6,1081.5 1291.8,1090.6 1331.0,1090.6 1370.2,1090.6 1409.4,1090.6 1448.6,1090.6 1487.8,1090.6 1527.0,1090.6 1566.2,1090.6 1605.4,1090.6 1644.6,1090.6 1683.8,1090.6 1723.0,1090.6 1762.2,1090.6" fill="none" stroke="#f00" stroke-width="4.8" stroke-linejoin="round"/>
<g fill="#f00">
<circle cx="194.2" cy="1090.6" r="13.4"/>
<circle cx="233.4" cy="1090.6" r="13.4"/>
<circle cx="272.6" cy="1090.6" r="13.4"/>
<circle cx="311.8" cy="1090.6" r="13.4"/>
<circle cx="351.0" cy="1090.6" r="13.4"/>
<circle cx="390.2" cy="1090.6" r="13.4"/>
<circle cx="429.4" cy="1090.6" r="13.4"/>
<circle cx="468.6" cy="1090.6" r="13.4"/>
<circle cx="507.8" cy="1089.7" r="13.4"/>
<circle cx="547.0" cy="1084.5" r="13.4"/>
<circle cx="586.2" cy="1088.0" r="13.4"/>
<circle cx="625.4" cy="1069.8" r="13.4"/>
<circle cx="664.6" cy="1015.9" r="13.4"/>
<circle cx="703.8" cy="955.0" r="13.4"/>
<circle cx="743.0" cy="893.7" r="13.4"/>
<circle cx="782.2" cy="840.9" r="13.4"/>
<circle cx="821.4" cy="805.0" r="13.4"/>
<circle cx="860.6" cy="790.3" r="13.4"/>
<circle cx="899.8" cy="791.5" r="13.4"/>
<circle cx="939.0" cy="810.2" r="13.4"/>
<circle cx="978.2" cy="842.4" r="13.4"/>
<circle cx="1017.4" cy="882.2" r="13.4"/>
<circle cx="1056.6" cy="925.5" r="13.4"/>
<circle cx="1095.8" cy="968.9" r="13.4"/>
<circle cx="1135.0" cy="1008.3" r="13.4"/>
<circle cx="1174.2" cy="1041.8" r="13.4"/>
<circle cx="1213.4" cy="1064.5" r="13.4"/>
<circle cx="1252.6" cy="1081.5" r="13.4"/>
<circle cx="1291.8" cy="1090.6" r="13.4"/>
<circle cx="1331.0" cy="1090.6" r="13.4"/>
<circle cx="1370.2" cy="1090.6" r="13.4"/>
<circle cx="1409.4" cy="1090.6" r="13.4"/>
<circle cx="1448.6" cy="1090.6" r="13.4"/>
<circle cx="1487.8" cy="1090.6" r="13.4"/>
<circle cx="1527.0" cy="1090.6" r="13.4"/>
<circle cx="1566.2" cy="1090.6" r="13.4"/>
<circle cx="1605.4" cy="1090.6" r="13.4"/>
<circle cx="1644.6" cy="1090.6" r="13.4"/>
<circle cx="1683.8" cy="1090.6" r="13.4"/>
<circle cx="1723.0" cy="1090.6" r="13.4"/>
<circle cx="1762.2" cy="1090.6" r="13.4"/>
</g>
<line x1="861" y1="644.6" x2="984.2" y2="644.6" stroke="#000" stroke-width="4.5"/>
<rect x="912.5" y="635" width="19.5" height="19.5" fill="#000"/>
<line x1="861" y1="709.4" x2="984.2" y2="709.4" stroke="#f00" stroke-width="4.5"/>
<circle cx="922.6" cy="710.6" r="12.4" fill="#f00"/>
<g font-size="53" font-weight="bold">
<text transform="translate(994.6 663.1) scale(0.87 1)" letter-spacing="2.9">nanoparticles before irradiation</text>
<text transform="translate(994.6 727.7) scale(0.87 1)" letter-spacing="2.9">nanoparticles after irradiation</text>
</g>
<g stroke="#000" stroke-width="5.5" fill="none" stroke-linecap="round" stroke-linejoin="round">
<path d="M199.5,1280.0 L1774.6,1280.0 L1774.6,2363.0 L199.5,2363.0 Z"/>
<line x1="178.5" y1="2305.4" x2="199.5" y2="2305.4"/>
<line x1="178.5" y1="2077.6" x2="199.5" y2="2077.6"/>
<line x1="178.5" y1="1849.8" x2="199.5" y2="1849.8"/>
<line x1="178.5" y1="1622.0" x2="199.5" y2="1622.0"/>
<line x1="178.5" y1="1394.2" x2="199.5" y2="1394.2"/>
<line x1="188.5" y1="2191.5" x2="199.5" y2="2191.5"/>
<line x1="188.5" y1="1963.7" x2="199.5" y2="1963.7"/>
<line x1="188.5" y1="1735.9" x2="199.5" y2="1735.9"/>
<line x1="188.5" y1="1508.1" x2="199.5" y2="1508.1"/>
<line x1="188.5" y1="1280.3" x2="199.5" y2="1280.3"/>
<line x1="291.0" y1="2363.0" x2="291.0" y2="2383.5"/>
<line x1="747.3" y1="2363.0" x2="747.3" y2="2383.5"/>
<line x1="1203.6" y1="2363.0" x2="1203.6" y2="2383.5"/>
<line x1="1659.9" y1="2363.0" x2="1659.9" y2="2383.5"/>
<line x1="519.1" y1="2363.0" x2="519.1" y2="2374"/>
<line x1="975.5" y1="2363.0" x2="975.5" y2="2374"/>
<line x1="1431.8" y1="2363.0" x2="1431.8" y2="2374"/>
</g>
<g font-size="58" font-weight="bold" fill="#000" text-anchor="end">
<text x="165" y="2321.1" letter-spacing="-1.3">0.4</text>
<text x="165" y="2093.3" letter-spacing="-1.3">0.5</text>
<text x="165" y="1865.5" letter-spacing="-1.3">0.6</text>
<text x="165" y="1637.7" letter-spacing="-1.3">0.7</text>
<text x="165" y="1409.9" letter-spacing="-1.3">0.8</text>
</g>
<g font-size="58" font-weight="bold" fill="#000" text-anchor="middle">
<text x="292.0" y="2442.8">5</text>
<text x="748.3" y="2442.8">6</text>
<text x="1204.6" y="2442.8">7</text>
<text x="1660.9" y="2442.8">8</text>
</g>
<text x="988" y="2482.1" font-size="55.5" font-weight="bold" text-anchor="middle">Time (h)</text>
<text transform="translate(67.7 1810) rotate(-90)" font-size="57" font-weight="bold" text-anchor="middle">C (<tspan font-family="'Liberation Serif', serif" font-weight="normal">µ</tspan>g/mL)</text>
<text x="226" y="1328.8" font-size="53" font-weight="bold">B</text>
<g stroke="#ff0000" stroke-width="2.2" stroke-linecap="round"><line x1="291" y1="2251.0" x2="291" y2="2285.5"/><line x1="291" y1="2285.5" x2="291" y2="2319.9"/><line x1="279.4" y1="2251.0" x2="302.6" y2="2251.0"/><line x1="279.4" y1="2319.9" x2="302.6" y2="2319.9"/></g>
<g stroke="#ff0000" stroke-width="2.2" stroke-linecap="round"><line x1="291" y1="2264.3" x2="291" y2="2285.5"/><line x1="291" y1="2285.5" x2="291" y2="2306.4"/><line x1="279.4" y1="2264.3" x2="302.6" y2="2264.3"/><line x1="279.4" y1="2306.4" x2="302.6" y2="2306.4"/></g>
<g stroke="#ff0000" stroke-width="2.2" stroke-linecap="round"><line x1="747.6" y1="2255.5" x2="747.6" y2="2283"/><line x1="747.6" y1="2283" x2="747.6" y2="2311.0"/><line x1="736.0" y1="2255.5" x2="759.2" y2="2255.5"/><line x1="736.0" y1="2311.0" x2="759.2" y2="2311.0"/></g>
<g stroke="#ff0000" stroke-width="2.2" stroke-linecap="round"><line x1="770" y1="2253.4" x2="770" y2="2282.6"/><line x1="770" y1="2282.6" x2="770" y2="2312.3"/><line x1="758.4" y1="2253.4" x2="781.6" y2="2253.4"/><line x1="758.4" y1="2312.3" x2="781.6" y2="2312.3"/></g>
<g stroke="#ff0000" stroke-width="2.2" stroke-linecap="round"><line x1="770" y1="2264.4" x2="770" y2="2282.6"/><line x1="770" y1="2282.6" x2="770" y2="2301.7"/><line x1="758.4" y1="2264.4" x2="781.6" y2="2264.4"/><line x1="758.4" y1="2301.7" x2="781.6" y2="2301.7"/></g>
<g stroke="#ff0000" stroke-width="2.2" stroke-linecap="round"><line x1="1204.4" y1="2246.1" x2="1204.4" y2="2278.3"/><line x1="1204.4" y1="2278.3" x2="1204.4" y2="2310.9"/><line x1="1192.8000000000002" y1="2246.1" x2="1216.0" y2="2246.1"/><line x1="1192.8000000000002" y1="2310.9" x2="1216.0" y2="2310.9"/></g>
<g stroke="#ff0000" stroke-width="2.2" stroke-linecap="round"><line x1="1211.5" y1="2249.6" x2="1211.5" y2="2278"/><line x1="1211.5" y1="2278" x2="1211.5" y2="2307.4"/><line x1="1199.9" y1="2249.6" x2="1223.1" y2="2249.6"/><line x1="1199.9" y1="2307.4" x2="1223.1" y2="2307.4"/></g>
<g stroke="#ff0000" stroke-width="2.2" stroke-linecap="round"><line x1="1660.9" y1="2241.4" x2="1660.9" y2="2271.6"/><line x1="1660.9" y1="2271.6" x2="1660.9" y2="2299.6"/><line x1="1649.3000000000002" y1="2241.4" x2="1672.5" y2="2241.4"/><line x1="1649.3000000000002" y1="2299.6" x2="1672.5" y2="2299.6"/></g>
<g stroke="#ff0000" stroke-width="2.2" stroke-linecap="round"><line x1="1660.9" y1="2243.3" x2="1660.9" y2="2271.6"/><line x1="1660.9" y1="2271.6" x2="1660.9" y2="2301.3"/><line x1="1649.3000000000002" y1="2243.3" x2="1672.5" y2="2243.3"/><line x1="1649.3000000000002" y1="2301.3" x2="1672.5" y2="2301.3"/></g>
<g stroke="#0000ff" stroke-width="2.2" stroke-linecap="round"><line x1="291" y1="2250.9" x2="291" y2="2271.8"/><line x1="291" y1="2303.8" x2="291" y2="2324.8"/><line x1="279.4" y1="2250.9" x2="302.6" y2="2250.9"/><line x1="279.4" y1="2324.8" x2="302.6" y2="2324.8"/></g>
<g stroke="#0000ff" stroke-width="2.2" stroke-linecap="round"><line x1="747.6" y1="2257.9" x2="747.6" y2="2271.5"/><line x1="747.6" y1="2303.5" x2="747.6" y2="2312.9"/><line x1="736.0" y1="2257.9" x2="759.2" y2="2257.9"/><line x1="736.0" y1="2312.9" x2="759.2" y2="2312.9"/></g>
<g stroke="#0000ff" stroke-width="2.2" stroke-linecap="round"><line x1="770" y1="2133.9" x2="770" y2="2155"/><line x1="770" y1="2187" x2="770" y2="2208.4"/><line x1="758.4" y1="2133.9" x2="781.6" y2="2133.9"/><line x1="758.4" y1="2208.4" x2="781.6" y2="2208.4"/></g>
<g stroke="#0000ff" stroke-width="2.2" stroke-linecap="round"><line x1="1204.4" y1="2116.4" x2="1204.4" y2="2144.6"/><line x1="1204.4" y1="2176.6" x2="1204.4" y2="2203.5"/><line x1="1192.8000000000002" y1="2116.4" x2="1216.0" y2="2116.4"/><line x1="1192.8000000000002" y1="2203.5" x2="1216.0" y2="2203.5"/></g>
<g stroke="#0000ff" stroke-width="2.2" stroke-linecap="round"><line x1="1211.3" y1="2059.0" x2="1211.3" y2="2084.3"/><line x1="1211.3" y1="2116.3" x2="1211.3" y2="2142.0"/><line x1="1199.7" y1="2059.0" x2="1222.8999999999999" y2="2059.0"/><line x1="1199.7" y1="2142.0" x2="1222.8999999999999" y2="2142.0"/></g>
<g stroke="#0000ff" stroke-width="2.2" stroke-linecap="round"><line x1="1661" y1="2047.4" x2="1661" y2="2073.8"/><line x1="1661" y1="2105.8" x2="1661" y2="2130.8"/><line x1="1649.4" y1="2047.4" x2="1672.6" y2="2047.4"/><line x1="1649.4" y1="2130.8" x2="1672.6" y2="2130.8"/></g>
<g stroke="#008000" stroke-width="2.2" stroke-linecap="round"><line x1="291" y1="2255.0" x2="291" y2="2267.5"/><line x1="291" y1="2299.5" x2="291" y2="2311.0"/><line x1="279.4" y1="2255.0" x2="302.6" y2="2255.0"/><line x1="279.4" y1="2311.0" x2="302.6" y2="2311.0"/></g>
<g stroke="#008000" stroke-width="2.2" stroke-linecap="round"><line x1="747.6" y1="2252.0" x2="747.6" y2="2268.5"/><line x1="747.6" y1="2300.5" x2="747.6" y2="2319.5"/><line x1="736.0" y1="2252.0" x2="759.2" y2="2252.0"/><line x1="736.0" y1="2319.5" x2="759.2" y2="2319.5"/></g>
<g stroke="#008000" stroke-width="2.2" stroke-linecap="round"><line x1="770" y1="1735.0" x2="770" y2="1749"/><line x1="770" y1="1781" x2="770" y2="1796.1"/><line x1="758.4" y1="1735.0" x2="781.6" y2="1735.0"/><line x1="758.4" y1="1796.1" x2="781.6" y2="1796.1"/></g>
<g stroke="#008000" stroke-width="2.2" stroke-linecap="round"><line x1="1204.4" y1="1708.0" x2="1204.4" y2="1731.5"/><line x1="1204.4" y1="1763.5" x2="1204.4" y2="1785.9"/><line x1="1192.8000000000002" y1="1708.0" x2="1216.0" y2="1708.0"/><line x1="1192.8000000000002" y1="1785.9" x2="1216.0" y2="1785.9"/></g>
<g stroke="#008000" stroke-width="2.2" stroke-linecap="round"><line x1="1211.3" y1="1450.8" x2="1211.3" y2="1468.2"/><line x1="1211.3" y1="1500.2" x2="1211.3" y2="1540.0"/><line x1="1199.7" y1="1450.8" x2="1222.8999999999999" y2="1450.8"/><line x1="1199.7" y1="1540.0" x2="1222.8999999999999" y2="1540.0"/></g>
<g stroke="#008000" stroke-width="2.2" stroke-linecap="round"><line x1="1660.4" y1="1429.4" x2="1660.4" y2="1457.6"/><line x1="1660.4" y1="1489.6" x2="1660.4" y2="1517.3"/><line x1="1648.8000000000002" y1="1429.4" x2="1672.0" y2="1429.4"/><line x1="1648.8000000000002" y1="1517.3" x2="1672.0" y2="1517.3"/></g>
<polyline points="291.0,2283.4 747.7,2282.5 770.0,2252.8 1204.0,2251.0 1211.2,2236.6 1661.0,2235.0" fill="none" stroke="#000" stroke-width="5.5" stroke-linejoin="round" stroke-linecap="round"/>
<rect x="279.2" y="2271.7" width="23.5" height="23.5" fill="#000"/>
<rect x="736.0" y="2270.8" width="23.5" height="23.5" fill="#000"/>
<rect x="758.2" y="2241.1" width="23.5" height="23.5" fill="#000"/>
<rect x="1192.2" y="2239.2" width="23.5" height="23.5" fill="#000"/>
<rect x="1199.5" y="2224.8" width="23.5" height="23.5" fill="#000"/>
<rect x="1649.2" y="2223.2" width="23.5" height="23.5" fill="#000"/>
<polyline points="291.0,2285.5 747.6,2283.0 770.0,2282.6 1204.0,2278.3 1211.3,2278.0 1660.9,2271.6" fill="none" stroke="#ff0000" stroke-width="5.5" stroke-linejoin="round" stroke-linecap="round"/>
<circle cx="291.0" cy="2285.5" r="13.3" fill="#ff0000"/>
<circle cx="747.6" cy="2283.0" r="13.3" fill="#ff0000"/>
<circle cx="770.0" cy="2282.6" r="13.3" fill="#ff0000"/>
<circle cx="1204.0" cy="2278.3" r="13.3" fill="#ff0000"/>
<circle cx="1211.3" cy="2278.0" r="13.3" fill="#ff0000"/>
<circle cx="1660.9" cy="2271.6" r="13.3" fill="#ff0000"/>
<polyline points="291.0,2287.8 747.6,2287.5 770.0,2171.0 1204.2,2160.6 1211.2,2100.3 1661.0,2089.8" fill="none" stroke="#0000ff" stroke-width="5.5" stroke-linejoin="round" stroke-linecap="round"/>
<polygon points="291.0,2269.5 307.2,2296.9 274.8,2296.9" fill="#0000ff"/>
<polygon points="747.6,2269.2 763.9,2296.6 731.4,2296.6" fill="#0000ff"/>
<polygon points="770.0,2152.7 786.2,2180.1 753.8,2180.1" fill="#0000ff"/>
<polygon points="1204.2,2142.3 1220.5,2169.7 1188.0,2169.7" fill="#0000ff"/>
<polygon points="1211.2,2082.0 1227.5,2109.4 1195.0,2109.4" fill="#0000ff"/>
<polygon points="1661.0,2071.5 1677.2,2098.9 1644.8,2098.9" fill="#0000ff"/>
<polyline points="291.0,2283.5 747.6,2284.5 770.0,1765.0 1204.4,1747.5 1211.3,1484.2 1660.4,1473.6" fill="none" stroke="#008000" stroke-width="5.5" stroke-linejoin="round" stroke-linecap="round"/>
<polygon points="274.8,2275.0 307.2,2275.0 291.0,2300.5" fill="#008000"/>
<polygon points="731.4,2276.0 763.9,2276.0 747.6,2301.5" fill="#008000"/>
<polygon points="753.8,1756.5 786.2,1756.5 770.0,1782.0" fill="#008000"/>
<polygon points="1188.2,1739.0 1220.7,1739.0 1204.4,1764.5" fill="#008000"/>
<polygon points="1195.0,1475.7 1227.5,1475.7 1211.3,1501.2" fill="#008000"/>
<polygon points="1644.2,1465.1 1676.7,1465.1 1660.4,1490.6" fill="#008000"/>
<line x1="225" y1="1355.5" x2="342.4" y2="1355.5" stroke="#008000" stroke-width="5.5" stroke-linecap="round"/>
<line x1="225" y1="1419.6" x2="342.4" y2="1419.6" stroke="#0000ff" stroke-width="5.5" stroke-linecap="round"/>
<line x1="225" y1="1485.3" x2="342.4" y2="1485.3" stroke="#000" stroke-width="5.5" stroke-linecap="round"/>
<line x1="225" y1="1548.9" x2="342.4" y2="1548.9" stroke="#ff0000" stroke-width="5.5" stroke-linecap="round"/>
<polygon points="269.6,1349.0 297.6,1349.0 283.6,1373.0" fill="#008000"/>
<polygon points="283.6,1405.0 297.6,1429.0 269.6,1429.0" fill="#0000ff"/>
<rect x="273.1" y="1474.8" width="20.5" height="20.5" fill="#000"/>
<circle cx="283.7" cy="1549.2" r="11.3" fill="#ff0000"/>
<g font-size="51.2" font-weight="bold">
<text x="357" y="1375">with laser irradiation (50W)</text>
<text x="357" y="1439.2">with laser irradiation (12W)</text>
<text x="357" y="1503.6">with laser irradiation (5W)</text>
<text x="357" y="1568">no laser irradiation</text>
</g>
<g fill="#0000ff" font-size="51" font-weight="bold">
<text x="539.5" y="1644">Laser On for 3 min</text>
<text x="1032.5" y="1363.2">Laser On for 1 min</text>
</g>
<line x1="769.7" y1="1658" x2="769.7" y2="1682" stroke="#00f" stroke-width="5.2" stroke-linecap="round"/>
<polygon points="761.2,1680 778.2,1680 769.7,1707.5" fill="#00f" stroke="#00f" stroke-width="3" stroke-linejoin="round"/>
<line x1="1212.7" y1="1383.5" x2="1212.7" y2="1408.5" stroke="#00f" stroke-width="5.2" stroke-linecap="round"/>
<polygon points="1204.45,1406.5 1220.95,1406.5 1212.7,1434.2" fill="#00f" stroke="#00f" stroke-width="3" stroke-linejoin="round"/>
</svg></body></html>
